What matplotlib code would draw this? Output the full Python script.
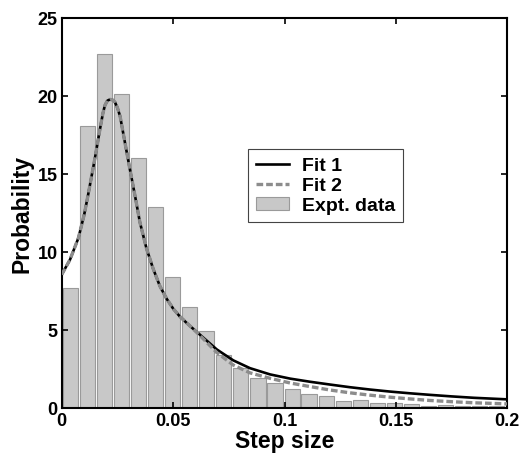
import numpy as np
import matplotlib
matplotlib.use('Agg')
import matplotlib.pyplot as plt

plt.rcParams['font.family'] = 'Liberation Sans'
plt.rcParams['font.weight'] = 'bold'

# histogram of measured step sizes (bin centres, probability density)
bin_centers = [0.0039, 0.0116, 0.0192, 0.0269, 0.0345, 0.0422, 0.0498, 0.0575,
               0.0651, 0.0728, 0.0804, 0.0881, 0.0957, 0.1034, 0.1110, 0.1187,
               0.1263, 0.1340, 0.1416, 0.1493, 0.1569, 0.1646, 0.1722, 0.1799,
               0.1875, 0.1952]
expt_prob = [7.7, 18.1, 22.7, 20.1, 16.0, 12.9, 8.4, 6.5,
             4.95, 3.4, 2.55, 1.92, 1.6, 1.22, 0.9, 0.76,
             0.46, 0.5, 0.34, 0.34, 0.23, 0.14, 0.2, 0.13,
             0.12, 0.1]
bin_width = 0.0068

# fit curves
fit_x = [0, 0.0037, 0.0075, 0.0101, 0.0119, 0.0149, 0.0172, 0.0185, 0.0194,
         0.0205, 0.0217, 0.0228, 0.0239, 0.025, 0.0262, 0.0284, 0.0306,
         0.0329, 0.0351, 0.0381, 0.0411, 0.0441, 0.0471, 0.0501, 0.0531,
         0.0576, 0.062, 0.0696, 0.077, 0.0845, 0.0935, 0.1025, 0.1114,
         0.1204, 0.1293, 0.1383, 0.1473, 0.1562, 0.1652, 0.175, 0.185, 0.2]
fit1_y = [8.55, 9.5, 10.9, 12.4, 13.7, 16.0, 17.9, 18.9, 19.4,
          19.7, 19.78, 19.75, 19.6, 19.25, 18.7, 17.0, 15.3,
          13.6, 11.9, 10.2, 8.9, 7.8, 7.0, 6.35, 5.85,
          5.25, 4.7, 3.75, 3.05, 2.55, 2.15, 1.88, 1.68,
          1.5, 1.33, 1.18, 1.05, 0.94, 0.84, 0.74, 0.65, 0.55]
fit2_y = [8.55, 9.5, 10.9, 12.4, 13.7, 16.0, 17.9, 18.9, 19.4,
          19.7, 19.78, 19.75, 19.6, 19.25, 18.7, 17.0, 15.3,
          13.6, 11.9, 10.2, 8.9, 7.8, 7.0, 6.35, 5.85,
          5.25, 4.65, 3.55, 2.75, 2.25, 1.9, 1.6, 1.37,
          1.15, 0.97, 0.82, 0.69, 0.58, 0.48, 0.4, 0.33, 0.26]

fig = plt.figure(figsize=(5.32, 4.60), dpi=100)
ax = fig.add_axes([0.116, 0.111, 0.8376, 0.8477])

ax.bar(bin_centers, expt_prob, width=bin_width, color='#c8c8c8',
       edgecolor='#9a9a9a', linewidth=0.8, label='Expt. data', zorder=1)
ax.plot(fit_x, fit1_y, color='black', lw=1.9, label='Fit 1', zorder=2)
ax.plot(fit_x, fit2_y, color='#8c8c8c', lw=2.4, ls=(0, (2.0, 0.9)),
        label='Fit 2', zorder=3)

ax.set_xlim(0, 0.2)
ax.set_ylim(0, 25)
ax.set_xticks([0, 0.05, 0.1, 0.15, 0.2])
ax.set_xticklabels(['0', '0.05', '0.1', '0.15', '0.2'])
ax.set_yticks([0, 5, 10, 15, 20, 25])
ax.tick_params(direction='in', length=4, width=1.2, labelsize=13,
               top=True, right=True, pad=3)
for s in ax.spines.values():
    s.set_linewidth(1.5)

ax.set_xlabel('Step size', fontsize=16.5, fontweight='bold', labelpad=0)
ax.set_ylabel('Probability', fontsize=16.5, fontweight='bold', labelpad=3)

leg = ax.legend(loc='upper left', bbox_to_anchor=(0.418, 0.664),
                borderaxespad=0, fontsize=14, fancybox=False,
                framealpha=1, edgecolor='#444444', handlelength=1.7,
                handletextpad=0.7, labelspacing=0.12, borderpad=0.4)
leg.get_frame().set_linewidth(0.8)
for t in leg.get_texts():
    t.set_fontweight('bold')

fig.savefig('out.png', dpi=100)
